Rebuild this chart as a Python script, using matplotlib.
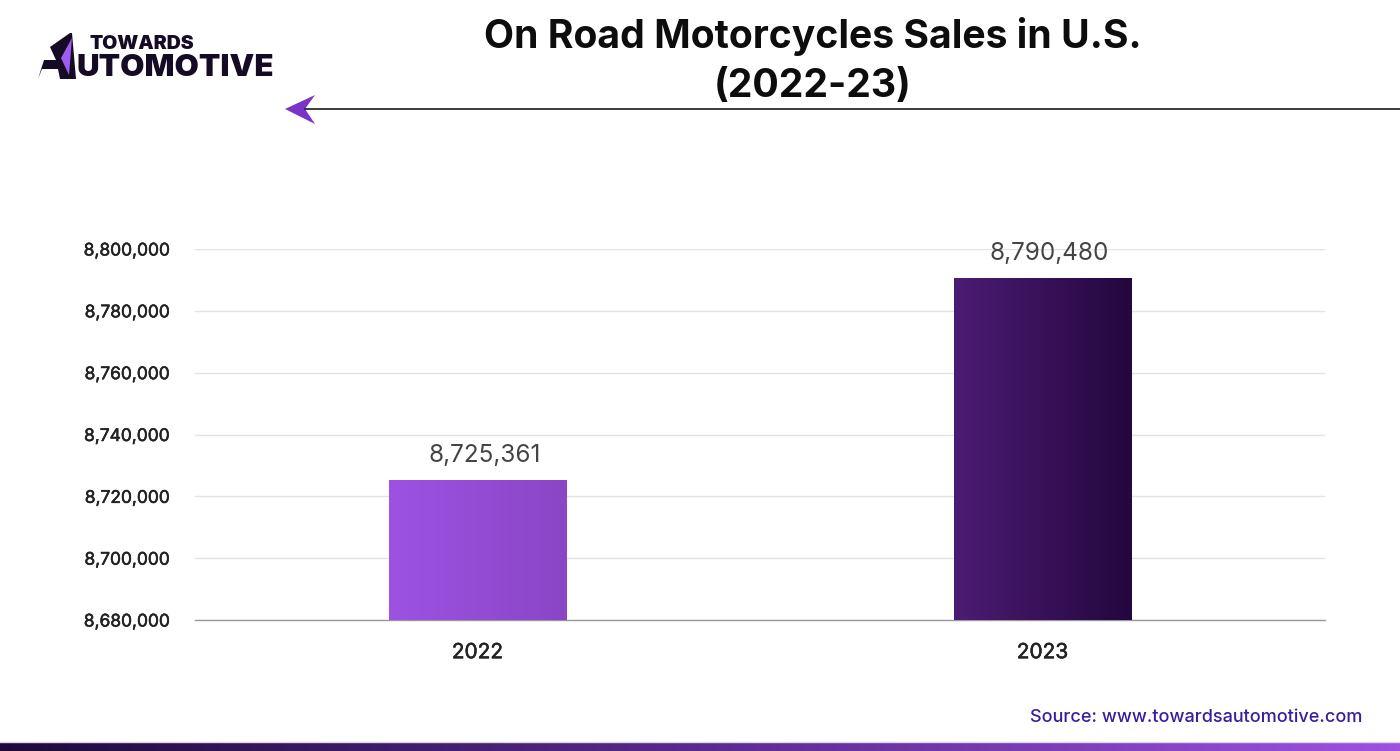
import numpy as np
import matplotlib
matplotlib.use("Agg")
import matplotlib.pyplot as plt
import matplotlib.patheffects as pe
from matplotlib.patches import Polygon
from matplotlib.colors import LinearSegmentedColormap
from matplotlib.ticker import FuncFormatter

years = ["2022", "2023"]
sales = [8725361, 8790480]
yticks = [8680000, 8700000, 8720000, 8740000, 8760000, 8780000, 8800000]
bar_grads = [("#9d52e2", "#8a46c6"), ("#4c1c74", "#24073e")]

plt.rcParams['font.family'] = ['Inter', 'DejaVu Sans']

fig = plt.figure(figsize=(14, 7.51), dpi=100)
W, H = 1400, 751
ax = fig.add_axes([195 / W, 1 - 620 / H, 1130 / W, (620 - 249) / H])

x = np.arange(len(years))
bars = ax.bar(x, sales, width=0.315, color="none", zorder=3)
ax.set_xlim(-0.5, 1.5)
ax.set_ylim(yticks[0], yticks[-1])

for b, (c1, c2) in zip(bars, bar_grads):
    cmap = LinearSegmentedColormap.from_list("g", [c1, c2])
    x0, y0 = b.get_x(), yticks[0]
    im = ax.imshow(np.linspace(0, 1, 256).reshape(1, -1), cmap=cmap, aspect="auto",
                   extent=[x0, x0 + b.get_width(), y0, b.get_height()], zorder=3,
                   interpolation="bilinear")
    im.set_clip_path(b)
ax.set_xlim(-0.5, 1.5)
ax.set_ylim(yticks[0], yticks[-1])

for xi, v in zip(x, sales):
    ax.annotate(f"{v:,}", xy=(xi, v), xytext=(5, 9.5), textcoords="offset points",
                ha="center", va="bottom", fontsize=17.5, color="#444444", zorder=4)

ax.set_yticks(yticks)
ax.yaxis.set_major_formatter(FuncFormatter(lambda v, p: f"{int(v):,}"))
ax.set_xticks(x)
ax.set_xticklabels(years)
ax.tick_params(axis="y", length=0, labelsize=12.5, pad=18.5, labelcolor="#222222")
ax.tick_params(axis="x", length=0, labelsize=15, pad=16, labelcolor="#222222")
for lbl in ax.get_yticklabels() + ax.get_xticklabels():
    lbl.set_path_effects([pe.withStroke(linewidth=0.4, foreground="#222222")])
ax.grid(axis="y", color="#e2e2e2", linewidth=1, zorder=0)
ax.set_axisbelow(True)
for s in ["top", "right", "left"]:
    ax.spines[s].set_visible(False)
ax.spines["bottom"].set_color("#999999")
ax.spines["bottom"].set_linewidth(1)

# Title
fig.text(813 / W, 1 - 36 / H, "On Road Motorcycles Sales in U.S.", ha="center", va="center",
         fontsize=28.2, fontweight="bold", color="#0d0d0d")
fig.text(813 / W, 1 - 87 / H, "(2022-23)", ha="center", va="center",
         fontsize=28.2, fontweight="bold", color="#0d0d0d")

# Header line with arrow
fig.add_artist(plt.Line2D([305 / W, 1.0], [1 - 109 / H, 1 - 109 / H], color="#1a1a1a",
                          linewidth=1.2, transform=fig.transFigure))
arrow = Polygon([[285 / W, 1 - 109 / H], [315 / W, 1 - 95 / H], [305 / W, 1 - 109 / H],
                 [315 / W, 1 - 124 / H]], closed=True, transform=fig.transFigure,
                facecolor="#7a35c8", edgecolor="none")
fig.add_artist(arrow)

# Logo
logo_dark = Polygon([[50 / W, 1 - 47 / H], [70 / W, 1 - 33 / H], [72 / W, 1 - 33 / H],
                     [76 / W, 1 - 79 / H], [60 / W, 1 - 79 / H], [58 / W, 1 - 69 / H],
                     [42 / W, 1 - 69 / H], [38 / W, 1 - 79 / H], [44 / W, 1 - 60 / H],
                     [56 / W, 1 - 60 / H]],
                    closed=True, transform=fig.transFigure, facecolor="#160b24", edgecolor="none")
fig.add_artist(logo_dark)
logo_purple = Polygon([[72 / W, 1 - 38 / H], [61 / W, 1 - 58 / H], [69 / W, 1 - 75 / H]],
                      closed=True, transform=fig.transFigure, facecolor="#9c5cf0", edgecolor="none")
fig.add_artist(logo_purple)
fig.text(89 / W, 1 - 44 / H, "TOWARDS", ha="left", va="center", fontsize=14,
         fontweight="black", color="#160b24")
fig.text(76 / W, 1 - 68 / H, "UTOMOTIVE", ha="left", va="center", fontsize=22.5,
         fontweight="black", color="#160b24")

# Source
fig.text(1362 / W, 1 - 718 / H, "Source: www.towardsautomotive.com", ha="right", va="center",
         fontsize=13, fontweight="medium", color="#3b1c9e")

# Bottom gradient strip
sax = fig.add_axes([0, 0, 1, 8 / H])
sax.imshow(np.linspace(0, 1, 512).reshape(1, -1),
           cmap=LinearSegmentedColormap.from_list("s", ["#1e0a3a", "#5a2a8e", "#9d52e2"]),
           aspect="auto", extent=[0, 1, 0, 1])
sax.set_axis_off()
fig.add_artist(plt.Line2D([0, 1], [9 / H, 9 / H], color="#ddd6ea", linewidth=1,
                          transform=fig.transFigure))

fig.savefig("out.png", dpi=100)
